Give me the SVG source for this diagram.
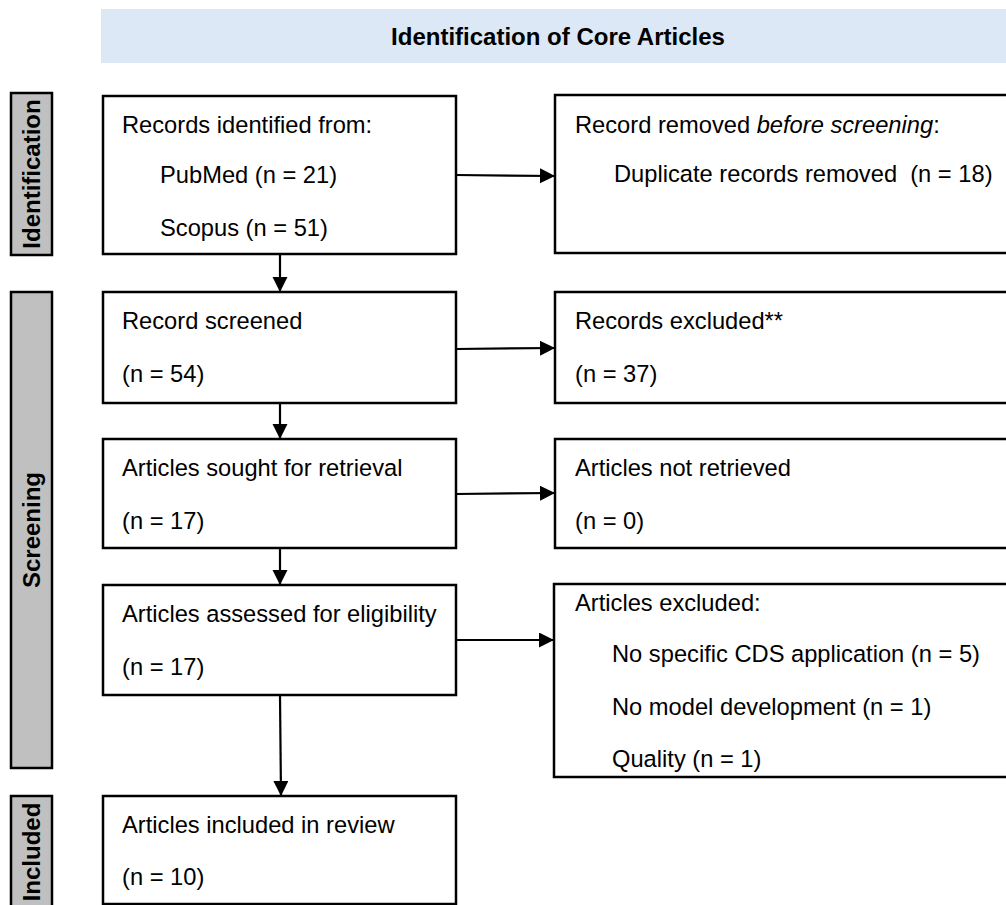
<svg xmlns="http://www.w3.org/2000/svg" width="1006" height="905" viewBox="0 0 1006 905">
<style>
  .box { fill: #ffffff; stroke: #000000; stroke-width: 2.5; }
  .side { fill: #c0c0c0; stroke: #000000; stroke-width: 2.5; }
  .t { font-family: "Liberation Sans", Arial, sans-serif; font-size: 23.7px; fill: #000000; }
  .sl { font-family: "Liberation Sans", Arial, sans-serif; font-size: 24px; font-weight: bold; fill: #000000; text-anchor: middle; }
  .hd { font-family: "Liberation Sans", Arial, sans-serif; font-size: 24px; font-weight: bold; fill: #000000; text-anchor: middle; }
  .conn { stroke: #000000; stroke-width: 2.2; fill: none; marker-end: url(#arrow); }
</style>
<defs>
  <marker id="arrow" markerUnits="userSpaceOnUse" markerWidth="16" markerHeight="16" refX="15" refY="7.5" orient="auto">
    <path d="M0,0 L15,7.5 L0,15 z" fill="#000000"/>
  </marker>
</defs>
<rect width="1006" height="905" fill="#ffffff"/>

<g id="header">
  <rect x="101" y="9" width="910" height="54" fill="#dce8f5"/>
  <text class="hd" x="558" y="45">Identification of Core Articles</text>
</g>

<g id="side-identification">
  <rect class="side" x="11" y="93" width="41" height="162"/>
  <text class="sl" transform="translate(40,174) rotate(-90)">Identification</text>
</g>
<g id="side-screening">
  <rect class="side" x="11" y="292" width="41" height="476"/>
  <text class="sl" transform="translate(40,530) rotate(-90)">Screening</text>
</g>
<g id="side-included">
  <rect class="side" x="11" y="796" width="41" height="115"/>
  <text class="sl" transform="translate(40,852) rotate(-90)">Included</text>
</g>

<g id="records-identified">
  <rect class="box" x="103" y="96" width="353" height="158"/>
  <text class="t" x="122" y="133">Records identified from:</text>
  <text class="t" x="160" y="183">PubMed (n = 21)</text>
  <text class="t" x="160" y="236">Scopus (n = 51)</text>
</g>
<g id="records-removed">
  <rect class="box" x="555" y="95" width="460" height="158"/>
  <text class="t" x="575" y="133">Record removed <tspan font-style="italic">before screening</tspan>:</text>
  <text class="t" x="614" y="182" xml:space="preserve">Duplicate records removed  (n = 18)</text>
</g>

<g id="records-screened">
  <rect class="box" x="103" y="292" width="353" height="111"/>
  <text class="t" x="122" y="329">Record screened</text>
  <text class="t" x="122" y="382">(n = 54)</text>
</g>
<g id="records-excluded">
  <rect class="box" x="555" y="292" width="460" height="111"/>
  <text class="t" x="575" y="329">Records excluded**</text>
  <text class="t" x="575" y="382">(n = 37)</text>
</g>

<g id="articles-sought">
  <rect class="box" x="103" y="439" width="353" height="109"/>
  <text class="t" x="122" y="476">Articles sought for retrieval</text>
  <text class="t" x="122" y="529">(n = 17)</text>
</g>
<g id="articles-not-retrieved">
  <rect class="box" x="555" y="439" width="460" height="109"/>
  <text class="t" x="575" y="476">Articles not retrieved</text>
  <text class="t" x="575" y="529">(n = 0)</text>
</g>

<g id="articles-assessed">
  <rect class="box" x="103" y="585" width="353" height="110"/>
  <text class="t" x="122" y="622">Articles assessed for eligibility</text>
  <text class="t" x="122" y="675">(n = 17)</text>
</g>
<g id="articles-excluded">
  <rect class="box" x="554" y="584" width="460" height="193"/>
  <text class="t" x="575" y="611">Articles excluded:</text>
  <text class="t" x="612" y="662">No specific CDS application (n = 5)</text>
  <text class="t" x="612" y="715">No model development (n = 1)</text>
  <text class="t" x="612" y="767">Quality (n = 1)</text>
</g>

<g id="articles-included">
  <rect class="box" x="103" y="796" width="353" height="108"/>
  <text class="t" x="122" y="833">Articles included in review</text>
  <text class="t" x="122" y="885">(n = 10)</text>
</g>

<g id="connectors">
  <line class="conn" x1="280" y1="254" x2="280" y2="292"/>
  <line class="conn" x1="280" y1="403" x2="280" y2="439"/>
  <line class="conn" x1="280" y1="548" x2="280" y2="585"/>
  <line class="conn" x1="280" y1="695" x2="281" y2="796"/>
  <line class="conn" x1="456" y1="175" x2="555" y2="176"/>
  <line class="conn" x1="456" y1="349" x2="555" y2="348"/>
  <line class="conn" x1="456" y1="494" x2="555" y2="493"/>
  <line class="conn" x1="456" y1="640" x2="554" y2="640"/>
</g>
</svg>
